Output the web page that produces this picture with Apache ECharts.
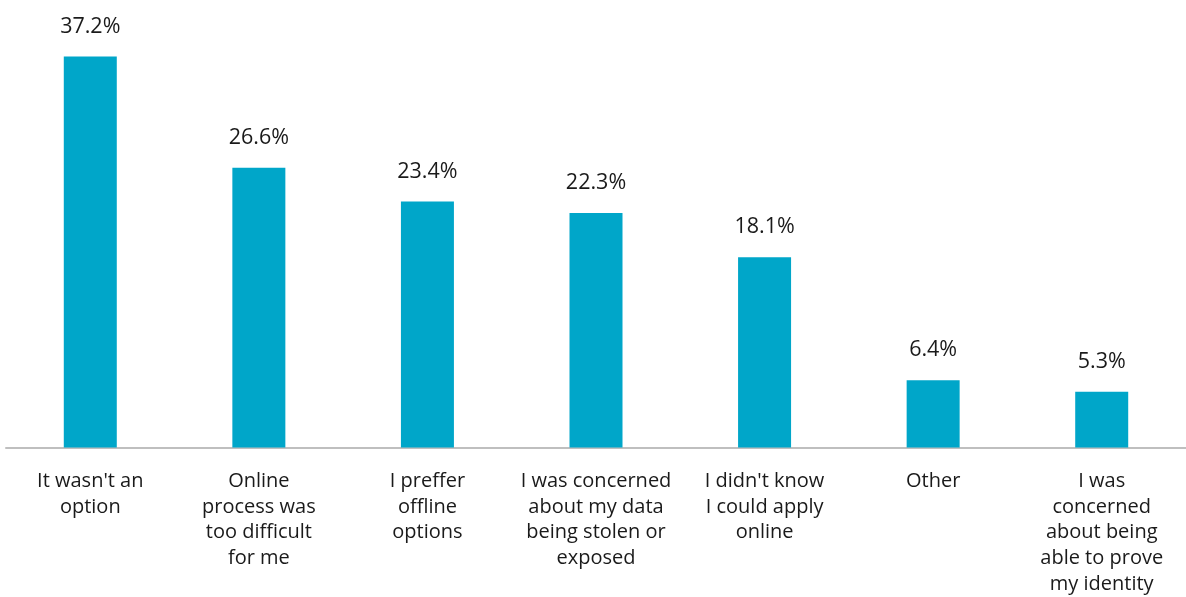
<!DOCTYPE html>
<html>
<head>
<meta charset="utf-8">
<style>
  html, body { margin: 0; padding: 0; background: #ffffff; overflow: hidden; }
  #chart { width: 1186px; height: 597px; }
</style>
<script src="https://cdn.jsdelivr.net/npm/echarts@6/dist/echarts.min.js"></script>
</head>
<body>
<div id="chart"></div>
<script>
// Reasons for not applying online (% of respondents)
const categories = [
  "It wasn't an\noption",
  "Online\nprocess was\ntoo difficult\nfor me",
  "I preffer\noffline\noptions",
  "I was concerned\nabout my data\nbeing stolen or\nexposed",
  "I didn't know\nI could apply\nonline",
  "Other",
  "I was\nconcerned\nabout being\nable to prove\nmy identity"
];
const shares = [37.2, 26.6, 23.4, 22.3, 18.1, 6.4, 5.3];

const chart = echarts.init(document.getElementById('chart'), null, { renderer: 'canvas' });

chart.setOption({
  animation: false,
  textStyle: { fontFamily: '"Open Sans", Lato, sans-serif' },
  grid: { left: 6, width: 1185, top: 27, bottom: 146 },
  xAxis: {
    type: 'category',
    data: categories,
    axisLine: { show: true, lineStyle: { color: '#bfbfbf', width: 2 } },
    axisTick: { show: false },
    axisLabel: {
      interval: 0,
      margin: 21,
      color: '#1a1a1a',
      fontSize: 20,
      lineHeight: 25.7,
      fontFamily: '"Open Sans", Lato, sans-serif'
    }
  },
  yAxis: {
    type: 'value',
    min: 0,
    max: 40,
    show: false,
    splitLine: { show: false }
  },
  series: [{
    type: 'bar',
    data: shares,
    barWidth: 53,
    itemStyle: { color: '#00a6c9' },
    z: 1,
    label: {
      show: true,
      position: 'top',
      distance: 19,
      color: '#1a1a1a',
      fontSize: 21.5,
      fontFamily: '"Open Sans", Lato, sans-serif',
      formatter: p => p.value.toFixed(1) + '%'
    }
  }]
});
</script>
</body>
</html>
